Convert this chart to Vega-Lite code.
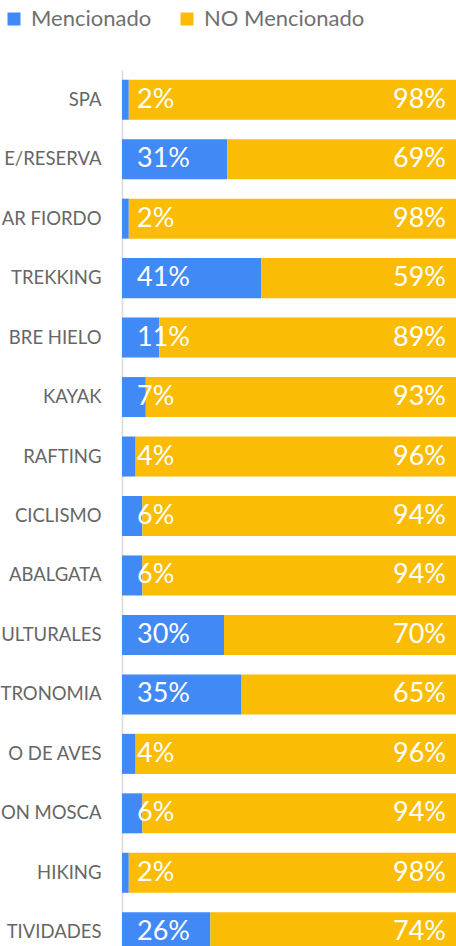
{
  "$schema": "https://vega.github.io/schema/vega-lite/v6.json",
  "autosize": {"type": "none"},
  "padding": {"left": 122, "top": 70, "right": 0, "bottom": 0},
  "width": 340,
  "height": 892,
  "background": "white",
  "config": {"view": {"stroke": null}, "font": "Lato"},
  "data": {
    "values": [
      {"actividad": "SPA", "tipo": "Mencionado", "valor": 0.02},
      {"actividad": "SPA", "tipo": "NO Mencionado", "valor": 0.98},
      {"actividad": "E/RESERVA", "tipo": "Mencionado", "valor": 0.31},
      {"actividad": "E/RESERVA", "tipo": "NO Mencionado", "valor": 0.69},
      {"actividad": "AR FIORDO", "tipo": "Mencionado", "valor": 0.02},
      {"actividad": "AR FIORDO", "tipo": "NO Mencionado", "valor": 0.98},
      {"actividad": "TREKKING", "tipo": "Mencionado", "valor": 0.41},
      {"actividad": "TREKKING", "tipo": "NO Mencionado", "valor": 0.59},
      {"actividad": "BRE HIELO", "tipo": "Mencionado", "valor": 0.11},
      {"actividad": "BRE HIELO", "tipo": "NO Mencionado", "valor": 0.89},
      {"actividad": "KAYAK", "tipo": "Mencionado", "valor": 0.07},
      {"actividad": "KAYAK", "tipo": "NO Mencionado", "valor": 0.93},
      {"actividad": "RAFTING", "tipo": "Mencionado", "valor": 0.04},
      {"actividad": "RAFTING", "tipo": "NO Mencionado", "valor": 0.96},
      {"actividad": "CICLISMO", "tipo": "Mencionado", "valor": 0.06},
      {"actividad": "CICLISMO", "tipo": "NO Mencionado", "valor": 0.94},
      {"actividad": "ABALGATA", "tipo": "Mencionado", "valor": 0.06},
      {"actividad": "ABALGATA", "tipo": "NO Mencionado", "valor": 0.94},
      {"actividad": "ULTURALES", "tipo": "Mencionado", "valor": 0.30},
      {"actividad": "ULTURALES", "tipo": "NO Mencionado", "valor": 0.70},
      {"actividad": "TRONOMIA", "tipo": "Mencionado", "valor": 0.35},
      {"actividad": "TRONOMIA", "tipo": "NO Mencionado", "valor": 0.65},
      {"actividad": "O DE AVES", "tipo": "Mencionado", "valor": 0.04},
      {"actividad": "O DE AVES", "tipo": "NO Mencionado", "valor": 0.96},
      {"actividad": "ON MOSCA", "tipo": "Mencionado", "valor": 0.06},
      {"actividad": "ON MOSCA", "tipo": "NO Mencionado", "valor": 0.94},
      {"actividad": "HIKING", "tipo": "Mencionado", "valor": 0.02},
      {"actividad": "HIKING", "tipo": "NO Mencionado", "valor": 0.98},
      {"actividad": "TIVIDADES", "tipo": "Mencionado", "valor": 0.26},
      {"actividad": "TIVIDADES", "tipo": "NO Mencionado", "valor": 0.74}
    ]
  },
  "encoding": {
    "y": {
      "field": "actividad",
      "type": "nominal",
      "sort": null,
      "title": null,
      "scale": {"paddingInner": 0.327, "paddingOuter": 0.1635},
      "axis": {
        "ticks": false,
        "domain": true,
        "domainColor": "#d9d9d9",
        "domainWidth": 1.5,
        "labelPadding": 21,
        "labelFontSize": 18.5,
        "labelColor": "#666666",
        "labelFont": "Lato",
        "labelLimit": 400
      }
    }
  },
  "layer": [
    {
      "mark": {"type": "bar"},
      "encoding": {
        "x": {
          "field": "valor",
          "type": "quantitative",
          "stack": "zero",
          "scale": {"domain": [0, 1], "nice": false},
          "axis": null
        },
        "order": {"field": "tipo", "sort": "ascending"},
        "color": {
          "field": "tipo",
          "type": "nominal",
          "scale": {"domain": ["Mencionado", "NO Mencionado"], "range": ["#4189F5", "#FBBC05"]},
          "legend": {
            "title": null,
            "orient": "none",
            "direction": "horizontal",
            "legendX": -119,
            "legendY": -62,
            "padding": 0,
            "symbolType": "square",
            "symbolSize": 169,
            "symbolStrokeWidth": 0,
            "symbolOpacity": 1,
            "labelFontSize": 22,
            "labelColor": "#707070",
            "labelFont": "Lato",
            "labelOffset": 6,
            "columnPadding": 24,
            "labelLimit": 300
          }
        }
      }
    },
    {
      "transform": [{"filter": "datum.tipo === 'Mencionado'"}],
      "mark": {"type": "text", "align": "left", "baseline": "middle", "dx": 15, "fontSize": 27, "color": "white", "font": "Lato"},
      "encoding": {
        "x": {"datum": 0, "type": "quantitative"},
        "text": {"field": "valor", "type": "quantitative", "format": ".0%"}
      }
    },
    {
      "transform": [{"filter": "datum.tipo === 'NO Mencionado'"}],
      "mark": {"type": "text", "align": "right", "baseline": "middle", "dx": -16, "fontSize": 27, "color": "white", "font": "Lato"},
      "encoding": {
        "x": {"datum": 1, "type": "quantitative"},
        "text": {"field": "valor", "type": "quantitative", "format": ".0%"}
      }
    }
  ]
}
